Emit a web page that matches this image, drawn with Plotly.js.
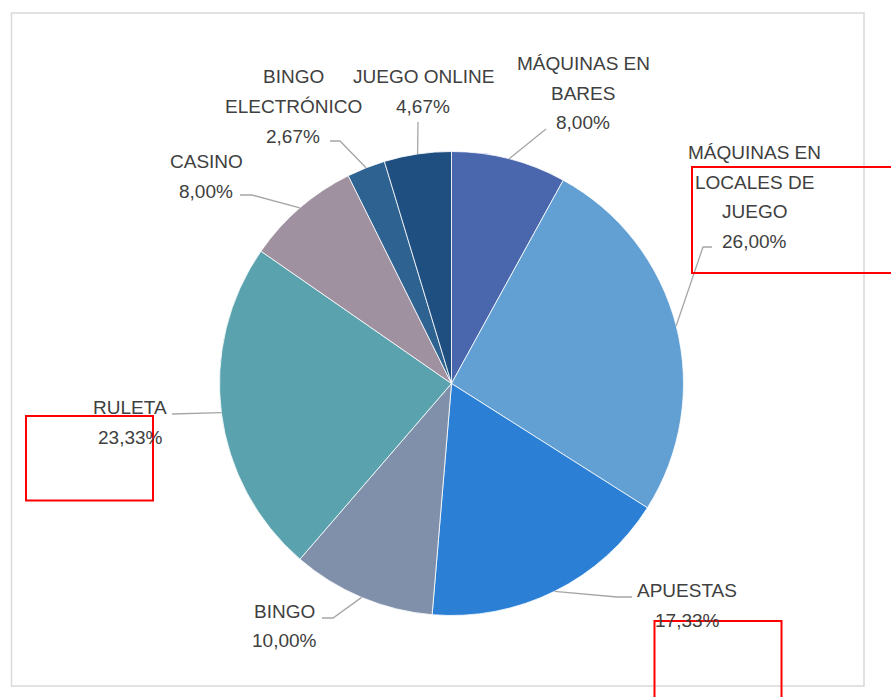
<!DOCTYPE html>
<html>
<head>
<meta charset="utf-8">
<script src="https://cdn.plot.ly/plotly-3.0.1.min.js"></script>
<style>html,body{margin:0;padding:0;background:#fff;}#chart{width:891px;height:697px;}</style>
</head>
<body>
<div id="chart"></div>
<script>
// ---- data ----
const labels = ['MÁQUINAS EN BARES', 'MÁQUINAS EN LOCALES DE JUEGO', 'APUESTAS', 'BINGO', 'RULETA', 'CASINO', 'BINGO ELECTRÓNICO', 'JUEGO ONLINE'];
const values = [8.00, 26.00, 17.33, 10.00, 23.33, 8.00, 2.67, 4.67];
const labelLines = [['MÁQUINAS EN', 'BARES'], ['MÁQUINAS EN', 'LOCALES DE', 'JUEGO'], ['APUESTAS'], ['BINGO'], ['RULETA'], ['CASINO'], ['BINGO', 'ELECTRÓNICO'], ['JUEGO ONLINE']];
const colors = ['#4a67ad', '#629fd2', '#2b80d6', '#8090aa', '#5aa3ae', '#9f91a0', '#2e6391', '#1f4e80'];

// ---- layout (pixel positions) ----
const W = 891, H = 697;
const CX = 451.5, CY = 383.5, R = 232;
const labelPos = [[583, 63.5], [754, 152.5], [687, 590.5], [284, 611], [130, 407.7], [206, 161.5], [293, 76.7], [423, 76.7]];
const leaderPts = [
  [[546, 129]],
  [[703, 247], [712, 247]],
  [[617, 597], [632, 597]],
  [[333, 618], [322, 618]],
  [[172, 414]],
  [[252, 195], [240, 195]],
  [[340, 141], [330, 141]],
  [[418, 122]]
];
const LINE_H = 29.7;
const px = x => x / W;
const py = y => 1 - y / H;

const total = values.reduce((a, b) => a + b, 0);
const annotations = [];
const shapes = [];
let cum = 0;
values.forEach((v, i) => {
  const mid = (cum + v / 2) / total * 2 * Math.PI;
  cum += v;
  const ex = CX + R * Math.sin(mid), ey = CY - R * Math.cos(mid);
  const lines = labelLines[i].concat([v.toFixed(2).replace('.', ',') + '%']);
  lines.forEach((t, k) => {
    annotations.push({
      xref: 'paper', yref: 'paper', x: px(labelPos[i][0]), y: py(labelPos[i][1] + k * LINE_H),
      xanchor: 'center', yanchor: 'middle', showarrow: false, text: t,
      font: {family: 'Liberation Sans, Arial, sans-serif', size: 19, color: '#404040'}
    });
  });
  let path = 'M ' + px(ex) + ',' + py(ey);
  leaderPts[i].forEach(p => { path += ' L ' + px(p[0]) + ',' + py(p[1]); });
  shapes.push({type: 'path', xref: 'paper', yref: 'paper', path: path, line: {color: '#a6a6a6', width: 1.3}});
});

// chart frame
shapes.push({type: 'rect', xref: 'paper', yref: 'paper', x0: px(11.5), x1: px(864), y0: py(13), y1: py(686), line: {color: '#d9d9d9', width: 1.5}, layer: 'below'});
// red boxes
[[692, 167, 895, 273], [26, 416, 153, 500.5], [654.5, 621, 781.5, 700]].forEach(b => {
  shapes.push({type: 'rect', xref: 'paper', yref: 'paper', x0: px(b[0]), x1: px(b[2]), y0: py(b[1]), y1: py(b[3]), line: {color: '#ff0000', width: 2}});
});

const trace = {
  type: 'pie', labels: labels, values: values, sort: false, direction: 'clockwise', rotation: 0,
  textinfo: 'none', hoverinfo: 'label+percent',
  marker: {colors: colors, line: {color: '#ffffff', width: 0.8}},
  domain: {x: [(CX - R) / W, (CX + R) / W], y: [1 - (CY + R) / H, 1 - (CY - R) / H]}
};

Plotly.newPlot('chart', [trace], {
  width: W, height: H, margin: {l: 0, r: 0, t: 0, b: 0},
  paper_bgcolor: '#ffffff', showlegend: false,
  annotations: annotations, shapes: shapes
}, {displayModeBar: false, staticPlot: true});
</script>
</body>
</html>
